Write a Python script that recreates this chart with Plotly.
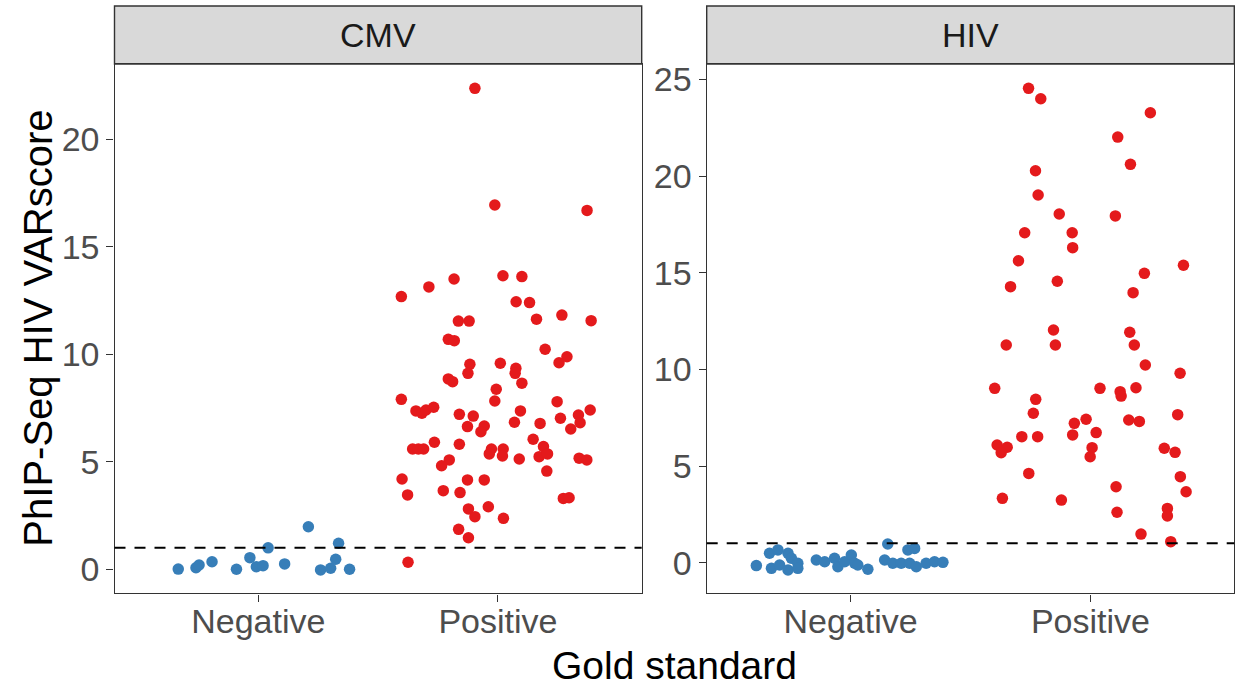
import plotly.graph_objects as go

# ---------------- data ----------------
panels = ["CMV", "HIV"]
categories = ["Negative", "Positive"]
threshold = 1

cmv_neg_jitter = [-0.334, -0.260, -0.247, -0.193, -0.091, -0.035, -0.008, 0.020,
                  0.041, 0.110, 0.209, 0.260, 0.302, 0.323, 0.335, 0.381]
cmv_neg_values = [0.01, 0.07, 0.20, 0.35, 0.00, 0.54, 0.12, 0.17,
                  1.00, 0.25, 1.98, -0.03, 0.05, 0.47, 1.21, 0.00]

cmv_pos_jitter = [-0.096, -0.013, 0.372, 0.021, 0.100, -0.183, -0.288, -0.403, 0.076, 0.132,
                  0.161, 0.267, 0.389, -0.165, -0.120, -0.207, -0.182, 0.197, 0.288, 0.255,
                  -0.117, -0.125, 0.010, 0.075, 0.072, 0.100, -0.207, -0.189, -0.007, -0.013,
                  -0.403, 0.247, -0.342, -0.317, -0.300, -0.268, -0.161, -0.103, 0.094, 0.069,
                  0.385, 0.336, 0.343, 0.304, 0.261, 0.176, -0.127, -0.057, -0.071, 0.147,
                  -0.265, -0.356, -0.332, -0.310, -0.161, -0.027, -0.036, 0.022, 0.019, 0.089,
                  0.190, 0.172, 0.207, 0.339, 0.371, -0.203, -0.235, 0.204, -0.400, -0.127,
                  -0.057, -0.377, -0.228, -0.158, 0.273, 0.297, -0.123, -0.096, -0.040, 0.023,
                  -0.164, -0.123, -0.375]
cmv_pos_values = [22.38, 16.95, 16.70, 13.66, 13.62, 13.51, 13.14, 12.69, 12.45, 12.41,
                  11.64, 11.83, 11.57, 11.55, 11.55, 10.70, 10.64, 10.24, 9.89, 9.61,
                  9.54, 9.12, 9.59, 9.35, 9.12, 8.66, 8.86, 8.73, 8.38, 7.83,
                  7.91, 7.80, 7.37, 7.26, 7.41, 7.54, 7.21, 7.13, 7.37, 6.84,
                  7.41, 7.18, 6.82, 6.53, 7.03, 6.79, 6.64, 6.67, 6.40, 6.05,
                  5.91, 5.60, 5.60, 5.60, 5.82, 5.60, 5.37, 5.60, 5.27, 5.13,
                  5.71, 5.24, 5.37, 5.17, 5.09, 5.09, 4.82, 4.57, 4.20, 4.16,
                  4.16, 3.46, 3.66, 3.57, 3.30, 3.33, 2.81, 2.45, 2.91, 2.37,
                  1.86, 1.47, 0.33]

hiv_neg_jitter = [-0.393, -0.338, -0.303, -0.261, -0.247, -0.220, -0.330, -0.296, -0.261, -0.220,
                  -0.143, -0.108, -0.067, -0.053, -0.025, 0.003, 0.017, 0.030, 0.072, 0.155,
                  0.142, 0.176, 0.211, 0.239, 0.267, 0.246, 0.274, 0.315, 0.350, 0.385]
hiv_neg_values = [-0.15, 0.49, 0.66, 0.49, 0.23, -0.03, -0.29, -0.12, -0.38, -0.29,
                  0.14, 0.05, 0.23, -0.21, 0.05, 0.40, -0.03, -0.12, -0.34, 0.97,
                  0.14, -0.03, -0.03, 0.66, 0.74, -0.03, -0.21, -0.03, 0.05, 0.02]

hiv_pos_jitter = [-0.258, -0.207, 0.250, 0.114, 0.167, -0.229, -0.218, -0.130, 0.104, -0.274,
                  -0.076, -0.074, -0.300, 0.388, 0.225, -0.333, -0.138, 0.178, -0.154, 0.164,
                  -0.351, -0.146, 0.183, 0.229, 0.374, -0.399, 0.040, 0.124, 0.128, 0.190,
                  -0.228, -0.238, 0.364, -0.067, -0.018, -0.074, 0.024, 0.160, 0.204, -0.286,
                  -0.220, -0.389, -0.347, -0.372, 0.007, -0.001, 0.308, 0.353, -0.257, 0.375,
                  0.399, 0.107, -0.367, -0.121, 0.111, 0.321, 0.321, 0.211, 0.335]
hiv_pos_values = [24.54, 24.00, 23.28, 22.02, 20.61, 20.28, 19.02, 18.04, 17.94, 17.07,
                  17.07, 16.30, 15.62, 15.39, 14.97, 14.28, 14.56, 13.97, 12.04, 11.92,
                  11.26, 11.26, 11.26, 10.23, 9.80, 9.02, 9.02, 8.85, 8.62, 9.05,
                  8.45, 7.73, 7.66, 7.21, 7.42, 6.61, 6.73, 7.38, 7.31, 6.52,
                  6.52, 6.09, 5.97, 5.69, 5.95, 5.48, 5.92, 5.71, 4.62, 4.45,
                  3.67, 3.93, 3.33, 3.24, 2.61, 2.81, 2.42, 1.48, 1.09]

cmv_yticks = [0, 5, 10, 15, 20]
hiv_yticks = [0, 5, 10, 15, 20, 25]
x_title = "Gold standard"
y_title = "PhIP-Seq HIV VARscore"

# ---------------- styling ----------------
W, H = 1238, 692
NEG_COLOR = "#377EB8"
POS_COLOR = "#E41A1C"
FONT = "Liberation Sans, Arial, sans-serif"
FRAME = "#333333"

def px_x(p):
    return p / W

def px_y(p):
    return 1 - p / H

panel_top, panel_bottom = 64, 593.3
strip_top = 6
panel_x = [(114.5, 641.7), (706.7, 1234.3)]
y_ranges = [[-1.117, 23.513], [-1.583, 25.80]]

fig = go.Figure()

series = [
    (cmv_neg_jitter, cmv_neg_values, cmv_pos_jitter, cmv_pos_values, "x", "y"),
    (hiv_neg_jitter, hiv_neg_values, hiv_pos_jitter, hiv_pos_values, "x2", "y2"),
]
for nj, nv, pj, pv, xa, ya in series:
    fig.add_trace(go.Scatter(
        x=[1 + j for j in nj], y=nv, mode="markers", xaxis=xa, yaxis=ya,
        marker=dict(color=NEG_COLOR, size=11.5, line=dict(width=0)),
        showlegend=False, hoverinfo="skip"))
    fig.add_trace(go.Scatter(
        x=[2 + j for j in pj], y=pv, mode="markers", xaxis=xa, yaxis=ya,
        marker=dict(color=POS_COLOR, size=11.5, line=dict(width=0)),
        showlegend=False, hoverinfo="skip"))

axis_common = dict(
    showline=True, mirror=True, linecolor=FRAME, linewidth=1.4,
    ticks="outside", ticklen=7, tickwidth=1.4, tickcolor=FRAME,
    showgrid=False, zeroline=False,
    tickfont=dict(family=FONT, size=34, color="#4D4D4D"),
)

for i, (xa, ya) in enumerate([("xaxis", "yaxis"), ("xaxis2", "yaxis2")]):
    x0, x1 = panel_x[i]
    suffix = "" if i == 0 else "2"
    fig.update_layout(**{
        xa: dict(axis_common, domain=[px_x(x0), px_x(x1)], range=[0.4, 2.6],
                 tickvals=[1, 2], ticktext=categories, anchor="y" + suffix,
                 ticklabelstandoff=-9),
        ya: dict(axis_common, domain=[px_y(panel_bottom), px_y(panel_top)],
                 range=y_ranges[i], tickvals=cmv_yticks if i == 0 else hiv_yticks,
                 anchor="x" + suffix),
    })
    # threshold line
    fig.add_shape(type="line", xref=f"x{suffix} domain", yref=f"y{suffix}",
                  x0=0, x1=1, y0=threshold, y1=threshold,
                  line=dict(color="black", width=2, dash="11px,9px"))
    # strip
    fig.add_shape(type="rect", xref="paper", yref="paper",
                  x0=px_x(x0), x1=px_x(x1), y0=px_y(panel_top), y1=px_y(strip_top),
                  fillcolor="#D9D9D9", line=dict(color=FRAME, width=1.4), layer="below")
    fig.add_annotation(x=(px_x(x0) + px_x(x1)) / 2, y=px_y(35),
                       xref="paper", yref="paper", text=panels[i], showarrow=False,
                       font=dict(family=FONT, size=34, color="#1A1A1A"),
                       xanchor="center", yanchor="middle")

fig.add_annotation(x=px_x((114.5 + 1234.3) / 2), y=px_y(665), xref="paper", yref="paper",
                   text=x_title, showarrow=False, xanchor="center", yanchor="middle",
                   font=dict(family=FONT, size=39, color="black"))
fig.add_annotation(x=px_x(38), y=px_y((panel_top + panel_bottom) / 2), xref="paper", yref="paper",
                   text=y_title, showarrow=False, xanchor="center", yanchor="middle",
                   textangle=-90, font=dict(family=FONT, size=40, color="black"))

fig.update_layout(
    width=W, height=H, margin=dict(l=0, r=0, t=0, b=0),
    paper_bgcolor="white", plot_bgcolor="white", template="none",
    showlegend=False,
)

fig.write_html(
    "out.html",
    config={"displayModeBar": False},
    post_script="document.body.style.margin='0';document.body.style.overflow='hidden';",
)
